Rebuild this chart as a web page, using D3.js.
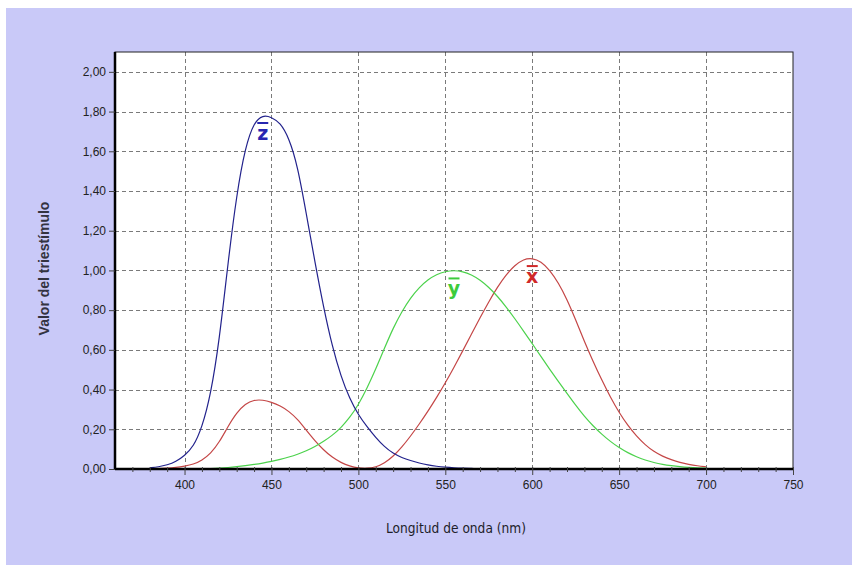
<!DOCTYPE html>
<html>
<head>
<meta charset="utf-8">
<script src="https://cdn.jsdelivr.net/npm/d3@7"></script>
<style>
  html, body { margin: 0; padding: 0; background: #ffffff; }
  svg { display: block; }
</style>
</head>
<body>
<svg id="chart" width="852" height="565"></svg>
<script>
// CIE 1931 2° colour-matching functions, 5 nm steps
const wavelengths = [380,385,390,395,400,405,410,415,420,425,430,435,440,445,450,455,460,465,470,475,480,485,490,495,500,505,510,515,520,525,530,535,540,545,550,555,560,565,570,575,580,585,590,595,600,605,610,615,620,625,630,635,640,645,650,655,660,665,670,675,680,685,690,695,700];
const xBar = [0.001368,0.002236,0.004243,0.00765,0.01431,0.02319,0.04351,0.07763,0.13438,0.21477,0.2839,0.3285,0.34828,0.34806,0.3362,0.3187,0.2908,0.2511,0.19536,0.1421,0.09564,0.05795,0.03201,0.0147,0.0049,0.0024,0.0093,0.0291,0.06327,0.1096,0.1655,0.22575,0.2904,0.3597,0.43345,0.51205,0.5945,0.6784,0.7621,0.8425,0.9163,0.9786,1.0263,1.0567,1.0622,1.0456,1.0026,0.9384,0.85445,0.7514,0.6424,0.5419,0.4479,0.3608,0.2835,0.2187,0.1649,0.1212,0.0874,0.0636,0.04677,0.0329,0.0227,0.01584,0.011359];
const yBar = [0.000039,0.000064,0.00012,0.000217,0.000396,0.00064,0.00121,0.00218,0.004,0.0073,0.0116,0.01684,0.023,0.0298,0.038,0.048,0.06,0.0739,0.09098,0.1126,0.13902,0.1693,0.20802,0.2586,0.323,0.4073,0.503,0.6082,0.71,0.7932,0.862,0.91485,0.954,0.9803,0.99495,1.0,0.995,0.9786,0.952,0.9154,0.87,0.8163,0.757,0.6949,0.631,0.5668,0.503,0.4412,0.381,0.321,0.265,0.217,0.175,0.1382,0.107,0.0816,0.061,0.04458,0.032,0.0232,0.017,0.01192,0.00821,0.005723,0.004102];
const zBar = [0.00645,0.01055,0.02005,0.03621,0.06785,0.1102,0.2074,0.3713,0.6456,1.03905,1.3856,1.62296,1.74706,1.7826,1.77211,1.7441,1.6692,1.5281,1.28764,1.0419,0.81295,0.6162,0.46518,0.3533,0.272,0.2123,0.1582,0.1117,0.07825,0.05725,0.04216,0.02984,0.0203,0.0134,0.00875,0.00575,0.0039,0.00275,0.0021,0.0018,0.00165,0.0014,0.0011,0.001,0.0008,0.0006,0.00034,0.00024,0.00019,0.0001,0.00005,0.00003,0.00002,0.00001,0,0,0,0,0,0,0,0,0,0,0];

const xTicks = [400, 450, 500, 550, 600, 650, 700, 750];
const yTicks = [0, 0.2, 0.4, 0.6, 0.8, 1.0, 1.2, 1.4, 1.6, 1.8, 2.0];
const xTitle = "Longitud de onda (nm)";
const yTitle = "Valor del triestímulo";

const series = [
  { name: "x", values: xBar, color: "#c44646", labelColor: "#d02828", labelAt: 600 },
  { name: "y", values: yBar, color: "#4cd24c", labelColor: "#3ccc3c", labelAt: 555 },
  { name: "z", values: zBar, color: "#22228c", labelColor: "#2626b0", labelAt: 445 }
];

const W = 852, H = 565;
const m = { left: 115, right: 59, top: 52, bottom: 96 };
const pw = W - m.left - m.right, ph = H - m.top - m.bottom;

const svg = d3.select("#chart");

// page backdrop
svg.append("rect").attr("x", 6).attr("y", 8).attr("width", W - 6).attr("height", H - 8)
  .attr("fill", "#c9c9f8");

const g = svg.append("g").attr("transform", `translate(${m.left},${m.top})`);

const x = d3.scaleLinear().domain([360, 750]).range([0, pw]);
const y = d3.scaleLinear().domain([0, 2.1]).range([ph, 0]);

// plot background
g.append("rect").attr("width", pw).attr("height", ph).attr("fill", "#ffffff");

// dashed grid
g.append("g").selectAll("line").data(yTicks.filter(d => d > 0)).join("line")
  .attr("x1", 0).attr("x2", pw)
  .attr("y1", d => Math.round(y(d)) + 0.5).attr("y2", d => Math.round(y(d)) + 0.5)
  .attr("stroke", "#7a7a7a").attr("stroke-dasharray", "4,3");
g.append("g").selectAll("line").data(xTicks.filter(d => d < 750)).join("line")
  .attr("y1", 0).attr("y2", ph)
  .attr("x1", d => Math.round(x(d)) + 0.5).attr("x2", d => Math.round(x(d)) + 0.5)
  .attr("stroke", "#7a7a7a").attr("stroke-dasharray", "4,3");

// curves
const line = d3.line()
  .x((d, i) => x(wavelengths[i]))
  .y(d => y(d))
  .curve(d3.curveBasis);

series.forEach(s => {
  g.append("path").datum(s.values)
    .attr("fill", "none").attr("stroke", s.color).attr("stroke-width", 1.2)
    .attr("d", line);
});

// frame: thin top/right, heavy left/bottom
g.append("rect").attr("width", pw).attr("height", ph)
  .attr("fill", "none").attr("stroke", "#222").attr("stroke-width", 1);
g.append("line").attr("x1", 0).attr("x2", 0).attr("y1", 0).attr("y2", ph)
  .attr("stroke", "#000").attr("stroke-width", 2.5);
g.append("line").attr("x1", 0).attr("x2", pw).attr("y1", ph).attr("y2", ph)
  .attr("stroke", "#000").attr("stroke-width", 2.5);

// y axis
const yAxis = d3.axisLeft(y).tickValues(yTicks).tickSize(6).tickPadding(3)
  .tickFormat(d => d3.format(".2f")(d).replace(".", ","));
const ya = g.append("g").call(yAxis);
ya.select(".domain").remove();
ya.selectAll(".tick line").attr("stroke", "#444");
ya.selectAll("text").attr("font-family", "Liberation Sans, Arial, sans-serif")
  .attr("font-size", 12).attr("fill", "#222");

// x axis: minor ticks every 10 nm, major every 50 nm
const minor = d3.range(370, 751, 10).filter(d => d % 50 !== 0);
g.append("g").attr("transform", `translate(0,${ph})`)
  .call(d3.axisBottom(x).tickValues(minor).tickSize(3).tickFormat(""))
  .call(a => a.select(".domain").remove())
  .selectAll(".tick line").attr("stroke", "#444").attr("y1", -2);
const xa = g.append("g").attr("transform", `translate(0,${ph})`)
  .call(d3.axisBottom(x).tickValues(xTicks).tickSize(6).tickPadding(5));
xa.select(".domain").remove();
xa.selectAll(".tick line").attr("stroke", "#444").attr("y1", -2);
xa.selectAll("text").attr("font-family", "Liberation Sans, Arial, sans-serif")
  .attr("font-size", 12).attr("fill", "#222");

// axis titles
svg.append("text").attr("x", 456).attr("y", 533)
  .attr("text-anchor", "middle").attr("font-family", "DejaVu Sans, sans-serif")
  .attr("font-size", 14).attr("fill", "#1e1e2a")
  .attr("textLength", 140).attr("lengthAdjust", "spacingAndGlyphs").text(xTitle);
svg.append("text").attr("transform", `translate(49,${m.top + ph / 2 + 8}) rotate(-90)`)
  .attr("text-anchor", "middle").attr("font-family", "Liberation Sans, Arial, sans-serif")
  .attr("font-weight", "bold").attr("font-size", 14).attr("fill", "#333340").text(yTitle);

// series labels with overbars, placed just below each peak
series.forEach(s => {
  const i = wavelengths.indexOf(s.labelAt);
  const cx = x(s.labelAt);
  const top = y(s.values[i]);
  g.append("text").attr("x", cx).attr("y", top + 25)
    .attr("text-anchor", "middle").attr("font-family", "DejaVu Sans, sans-serif")
    .attr("font-weight", "bold").attr("font-size", 19).attr("fill", s.labelColor)
    .text(s.name);
  g.append("line").attr("x1", cx - 5.5).attr("x2", cx + 5.5)
    .attr("y1", top + 8).attr("y2", top + 8)
    .attr("stroke", s.labelColor).attr("stroke-width", 2);
});
</script>
</body>
</html>
